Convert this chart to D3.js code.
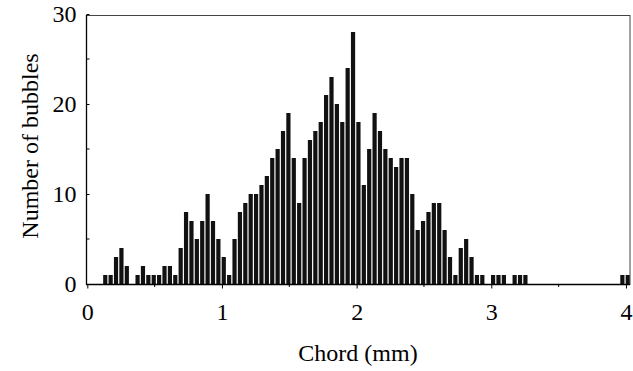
<!DOCTYPE html>
<html><head><meta charset="utf-8">
<script src="https://cdn.jsdelivr.net/npm/d3@7"></script>
<style>body{margin:0;background:#fff}svg{display:block}</style>
</head><body>
<script>
// Bin width 0.04 mm, bins start at 0.00 mm
const binWidth = 0.04;
const binStarts = d3.range(0, 101).map(i => +(i * binWidth).toFixed(2));
const counts = [
 0,0,0,1,1,3,4,2,0,1,
 2,1,1,1,2,2,1,4,8,7,
 5,7,10,7,5,3,1,5,8,9,
 10,10,11,12,14,15,17,19,14,9,
 14,16,17,18,21,23,20,18,24,28,
 18,11,15,19,17,15,14,13,14,14,
 10,6,7,8,9,9,6,3,1,4,
 5,3,1,1,0,1,1,1,0,1,
 1,1,0,0,0,0,0,0,0,0,
 0,0,0,0,0,0,0,0,0,1,
 1
];
const xTicks = [0,1,2,3,4];
const xMinor = [0.5,1.5,2.5,3.5];
const yTicks = [0,10,20,30];
const yMinor = [5,15,25];

(function(){
const W = 633, H = 371;
const mLeft = 87.3, mRight = 630, mTop = 15, mBottom = 284;
const svg = d3.select("body").append("svg").attr("width", W).attr("height", H);
const x = d3.scaleLinear().domain([0, 4.03]).range([mLeft, mRight]);
const y = d3.scaleLinear().domain([0, 30]).range([mBottom, 14]);
const font = "'Liberation Serif', 'Times New Roman', serif";
const fs = 24;

// bars
const data = binStarts.map((b, i) => ({b, v: counts[i]})).filter(d => d.v > 0);
svg.append("g").selectAll("rect").data(data).join("rect")
  .attr("x", d => x(d.b) - 0.3)
  .attr("width", 4.2)
  .attr("y", d => y(d.v))
  .attr("height", d => y(0) - y(d.v))
  .attr("fill", "#111");

// frame
svg.append("rect").attr("x", 86.5).attr("y", mTop + 0.5).attr("width", mRight - 86.5).attr("height", mBottom - mTop)
  .attr("fill", "none").attr("stroke", "#444").attr("stroke-width", 1);
svg.append("line").attr("x1", 86.5).attr("x2", 86.5).attr("y1", mTop).attr("y2", mBottom + 0.5)
  .attr("stroke", "#000").attr("stroke-width", 1.3);
svg.append("line").attr("x1", 86).attr("x2", mRight).attr("y1", mBottom + 0.5).attr("y2", mBottom + 0.5)
  .attr("stroke", "#000").attr("stroke-width", 1.3);

// x axis ticks
const xAxis = d3.axisBottom(x).tickValues(xTicks).tickSize(4).tickPadding(14).tickFormat(d3.format("d"));
const gx = svg.append("g").attr("transform", `translate(0,${mBottom + 0.5})`).call(xAxis);
gx.select(".domain").remove();
gx.selectAll("text").attr("font-family", font).attr("font-size", fs).attr("fill", "#000");
gx.selectAll("line").attr("stroke", "#000");
svg.append("g").selectAll("line").data(xMinor).join("line")
  .attr("x1", d => x(d)).attr("x2", d => x(d)).attr("y1", mBottom).attr("y2", mBottom + 3)
  .attr("stroke", "#000");

// y axis ticks (inward)
const yAxis = d3.axisLeft(y).tickValues(yTicks).tickSize(-3).tickPadding(10).tickFormat(d3.format("d"));
const gy = svg.append("g").attr("transform", `translate(86.5,0)`).call(yAxis);
gy.select(".domain").remove();
gy.selectAll("text").attr("font-family", font).attr("font-size", fs).attr("fill", "#000");
gy.selectAll("line").attr("stroke", "#000");
svg.append("g").selectAll("line").data(yMinor).join("line")
  .attr("x1", 86.5).attr("x2", 89.5).attr("y1", d => y(d)).attr("y2", d => y(d))
  .attr("stroke", "#000");

// axis titles
svg.append("text").attr("x", 358).attr("y", 361).attr("text-anchor", "middle")
  .attr("font-family", font).attr("font-size", fs).text("Chord (mm)");
svg.append("text").attr("transform", `translate(38,146) rotate(-90)`).attr("text-anchor", "middle")
  .attr("font-family", font).attr("font-size", fs).text("Number of bubbles");
})();
</script>
</body></html>
